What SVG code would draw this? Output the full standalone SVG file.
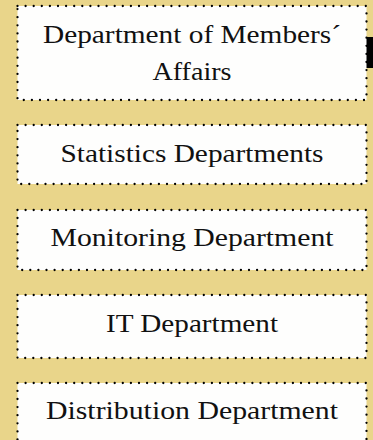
<svg xmlns="http://www.w3.org/2000/svg" width="373" height="440" viewBox="0 0 373 440">
<style>
.box{fill:#FEFEFD;stroke:#000;stroke-width:2.3;stroke-dasharray:0 8.1;stroke-linecap:round}
.t{font-family:"Liberation Serif","DejaVu Serif",serif;font-size:24.5px;fill:#111;text-anchor:middle}
</style>
<rect x="0" y="0" width="373" height="440" fill="#E9D58A"/>
<rect x="366" y="37" width="7" height="31" fill="#000"/>
<g id="members">
<rect class="box" x="17.5" y="6" width="349" height="94"/>
<text class="t" x="192" y="42.5" textLength="298" lengthAdjust="spacingAndGlyphs">Department of Members´</text>
<text class="t" x="192" y="80" textLength="79" lengthAdjust="spacingAndGlyphs">Affairs</text>
</g>
<g id="statistics">
<rect class="box" x="17.5" y="125" width="349" height="59"/>
<text class="t" x="192" y="161.5" textLength="263" lengthAdjust="spacingAndGlyphs">Statistics Departments</text>
</g>
<g id="monitoring">
<rect class="box" x="17.5" y="210" width="349" height="60"/>
<text class="t" x="192" y="246" textLength="283" lengthAdjust="spacingAndGlyphs">Monitoring Department</text>
</g>
<g id="it">
<rect class="box" x="17.5" y="295" width="349" height="63"/>
<text class="t" x="192" y="331.5" textLength="172" lengthAdjust="spacingAndGlyphs">IT Department</text>
</g>
<g id="distribution">
<rect class="box" x="17.5" y="383" width="349" height="64"/>
<text class="t" x="192" y="419" textLength="292" lengthAdjust="spacingAndGlyphs">Distribution Department</text>
</g>
<g id="connectors"></g>
</svg>
